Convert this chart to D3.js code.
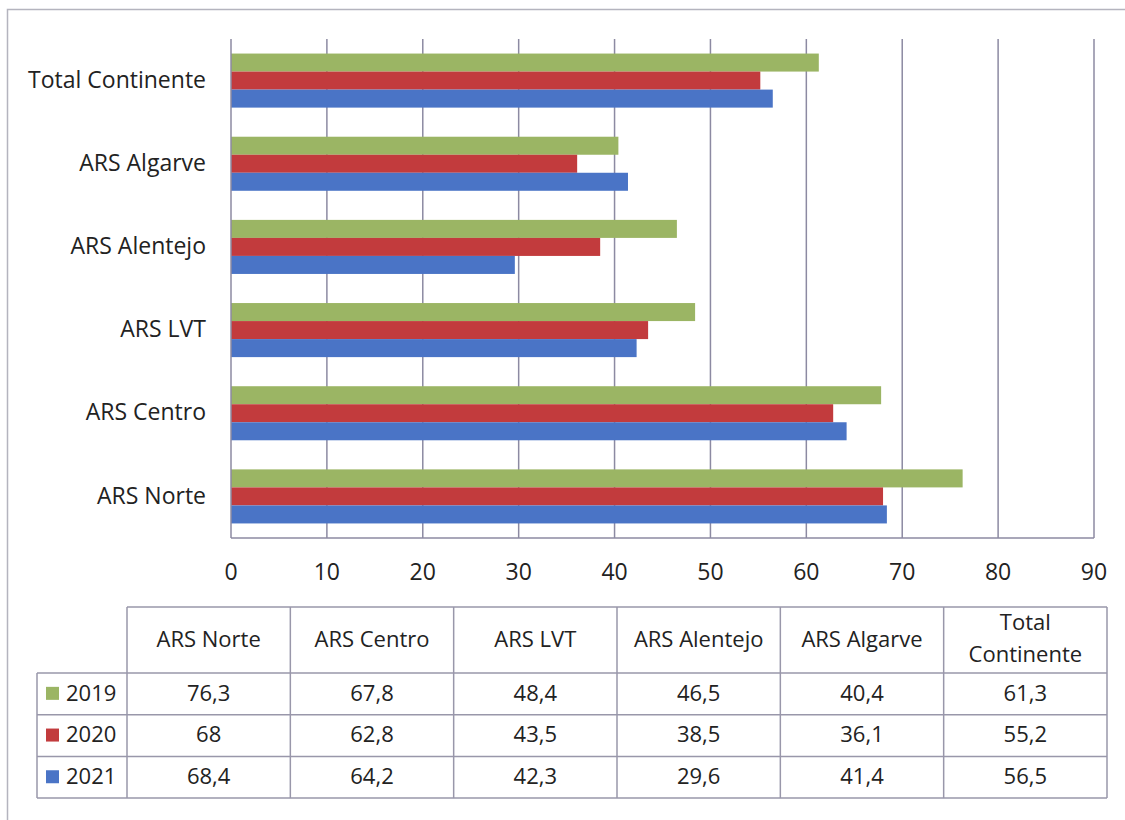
<!DOCTYPE html>
<html>
<head>
<meta charset="utf-8">
<script src="https://cdn.jsdelivr.net/npm/d3@7"></script>
<style>
  body { margin: 0; background: #fff; }
  svg text { font-family: "Open Sans", Lato, sans-serif; fill: #222; }
</style>
</head>
<body>
<div id="chart"></div>
<script>
// data
const categories = ['ARS Norte', 'ARS Centro', 'ARS LVT', 'ARS Alentejo', 'ARS Algarve', 'Total Continente'];
const years = ['2019', '2020', '2021'];
const values2019 = [76.3, 67.8, 48.4, 46.5, 40.4, 61.3];
const values2020 = [68, 62.8, 43.5, 38.5, 36.1, 55.2];
const values2021 = [68.4, 64.2, 42.3, 29.6, 41.4, 56.5];
const xTicks = [0, 10, 20, 30, 40, 50, 60, 70, 80, 90];

const seriesValues = [values2019, values2020, values2021];
const colors = ['#9bb564', '#c23b3d', '#4a74c6'];
const gridColor = '#8c8aa2';
const fmt = v => String(v).replace('.', ',');

const width = 1125, height = 820;
const plot = { left: 231, right: 1094, top: 39, bottom: 538 };

const svg = d3.select('#chart')
    .append('svg')
    .attr('width', width)
    .attr('height', height);

// outer frame (only top and left visible in the scan)
svg.append('path')
    .attr('d', `M7.5,${height} V9.5 H${width}`)
    .attr('fill', 'none')
    .attr('stroke', '#b4b4be')
    .attr('stroke-width', 1.5);

const x = d3.scaleLinear().domain([0, 90]).range([plot.left, plot.right]);
const y = d3.scaleBand()
    .domain(categories.slice().reverse())
    .range([plot.top, plot.bottom])
    .paddingInner(0.35)
    .paddingOuter(0.175);
const ySub = d3.scaleBand().domain(years).range([0, y.bandwidth()]);

// vertical gridlines
svg.selectAll('.grid')
    .data(xTicks.slice(1))
    .enter()
    .append('line')
    .attr('class', 'grid')
    .attr('x1', d => x(d)).attr('x2', d => x(d))
    .attr('y1', plot.top).attr('y2', plot.bottom)
    .attr('stroke', gridColor)
    .attr('stroke-width', 1.5);

// bars
const groups = svg.selectAll('.cat')
    .data(categories)
    .enter()
    .append('g')
    .attr('class', 'cat')
    .attr('transform', d => `translate(0,${y(d)})`);

groups.selectAll('rect')
    .data((d, i) => years.map((yr, s) => ({ yr, s, v: seriesValues[s][i] })))
    .enter()
    .append('rect')
    .attr('x', x(0))
    .attr('y', d => ySub(d.yr))
    .attr('width', d => x(d.v) - x(0))
    .attr('height', ySub.bandwidth())
    .attr('fill', d => colors[d.s]);

// axes lines
svg.append('line')
    .attr('x1', x(0)).attr('x2', x(0))
    .attr('y1', plot.top).attr('y2', plot.bottom)
    .attr('stroke', gridColor).attr('stroke-width', 1.5);
svg.append('line')
    .attr('x1', x(0)).attr('x2', x(90))
    .attr('y1', plot.bottom).attr('y2', plot.bottom)
    .attr('stroke', gridColor).attr('stroke-width', 1.5);

// category labels
svg.selectAll('.cat-label')
    .data(categories)
    .enter()
    .append('text')
    .attr('class', 'cat-label')
    .attr('x', 206)
    .attr('y', d => y(d) + y.bandwidth() / 2 + 1)
    .attr('text-anchor', 'end')
    .attr('dominant-baseline', 'middle')
    .attr('font-size', 23)
    .text(d => d);

// x tick labels
svg.selectAll('.tick-label')
    .data(xTicks)
    .enter()
    .append('text')
    .attr('class', 'tick-label')
    .attr('x', d => x(d))
    .attr('y', 574)
    .attr('text-anchor', 'middle')
    .attr('dominant-baseline', 'middle')
    .attr('font-size', 23)
    .text(d => d);

// data table
const tableCols = categories.map((c, i) => i);
const colX = d3.scaleBand().domain(tableCols).range([127, 1107]);
const headerTop = 607, headerBottom = 673, rowH = 41.7, legendLeft = 37;
const rowY = d3.scaleBand().domain(years).range([headerBottom, headerBottom + rowH * 3]);
const tableBottom = headerBottom + rowH * 3;
const lineAttrs = sel => sel.attr('stroke', '#9997aa').attr('stroke-width', 1.5);

// header horizontal top
lineAttrs(svg.append('line').attr('x1', 127).attr('x2', 1107).attr('y1', headerTop).attr('y2', headerTop));
// row lines
years.forEach(yr => {
    lineAttrs(svg.append('line').attr('x1', legendLeft).attr('x2', 1107)
        .attr('y1', rowY(yr)).attr('y2', rowY(yr)));
});
lineAttrs(svg.append('line').attr('x1', legendLeft).attr('x2', 1107).attr('y1', tableBottom).attr('y2', tableBottom));
// vertical lines
lineAttrs(svg.append('line').attr('x1', legendLeft).attr('x2', legendLeft).attr('y1', headerBottom).attr('y2', tableBottom));
tableCols.concat([tableCols.length]).forEach(i => {
    const xx = i < tableCols.length ? colX(i) : 1107;
    lineAttrs(svg.append('line').attr('x1', xx).attr('x2', xx).attr('y1', headerTop).attr('y2', tableBottom));
});

// header text
categories.forEach((c, i) => {
    const cx = colX(i) + colX.bandwidth() / 2;
    const t = svg.append('text')
        .attr('x', cx)
        .attr('text-anchor', 'middle')
        .attr('dominant-baseline', 'middle')
        .attr('font-size', 22);
    if (c === 'Total Continente') {
        t.append('tspan').attr('x', cx).attr('y', 624).text('Total');
        t.append('tspan').attr('x', cx).attr('y', 656).text('Continente');
    } else {
        t.attr('y', 641).text(c);
    }
});

// rows
years.forEach((yr, s) => {
    const cy = rowY(yr) + rowY.bandwidth() / 2;
    svg.append('rect')
        .attr('x', 46).attr('y', cy - 7)
        .attr('width', 13).attr('height', 13)
        .attr('fill', colors[s]);
    svg.append('text')
        .attr('x', 66).attr('y', cy + 1)
        .attr('dominant-baseline', 'middle')
        .attr('font-size', 22)
        .text(yr);
    seriesValues[s].forEach((v, i) => {
        svg.append('text')
            .attr('x', colX(i) + colX.bandwidth() / 2)
            .attr('y', cy + 1)
            .attr('text-anchor', 'middle')
            .attr('dominant-baseline', 'middle')
            .attr('font-size', 22)
            .text(fmt(v));
    });
});
</script>
</body>
</html>
